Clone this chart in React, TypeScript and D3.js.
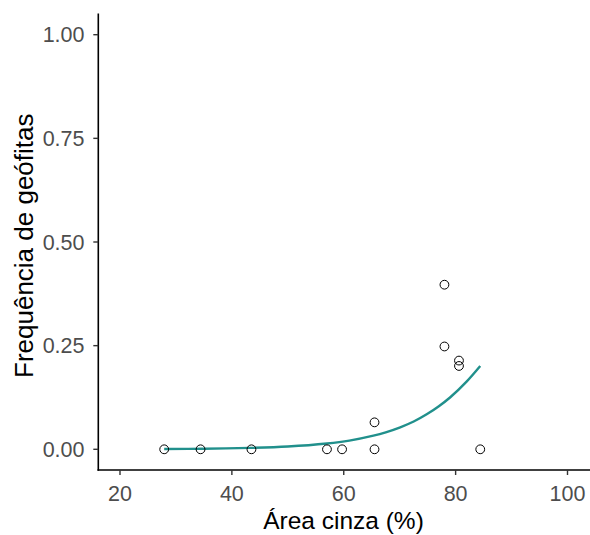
import React from "react";
import * as d3 from "d3";

const pointX = [27.9, 34.4, 43.5, 57.0, 59.7, 65.5, 65.5, 78.0, 78.0, 80.6, 80.6, 84.4];
const pointY = [0, 0, 0, 0, 0, 0, 0.065, 0.397, 0.248, 0.214, 0.201, 0];

const curveX = [27.9, 35, 43.3, 50, 57, 61, 65.3, 67.5, 70.1, 72.5, 74.9, 77, 79, 82, 84.4];
const curveY = [0.0007, 0.0014, 0.0034, 0.0067, 0.014, 0.021, 0.033, 0.041, 0.053, 0.067, 0.085, 0.104, 0.125, 0.164, 0.201];

const xTicks = [20, 40, 60, 80, 100];
const yTicks = [0, 0.25, 0.5, 0.75, 1.0];

const W = 590;
const H = 535;

export default function App() {
  const x = d3.scaleLinear().domain([20, 100]).range([120, 567.5]);
  const y = d3.scaleLinear().domain([0, 1]).range([449.3, 34.7]);
  const left = 98.3;
  const bottom = 470;
  const top = 13.5;
  const right = 590;

  const line = d3
    .line<number>()
    .x((_, i) => x(curveX[i]))
    .y((d) => y(d))
    .curve(d3.curveCatmullRom.alpha(0.5));

  const font = "Arial, 'Liberation Sans', sans-serif";

  return (
    <svg
      width={W}
      height={H}
      style={{ position: "absolute", left: 0, top: 0, background: "#fff" }}
      fontFamily={font}
    >
      <rect width={W} height={H} fill="#fff" />
      <path d={line(curveY) || ""} fill="none" stroke="#21908C" strokeWidth={2.4} strokeLinecap="butt" />
      {pointX.map((px, i) => (
        <circle
          key={i}
          cx={x(px)}
          cy={y(pointY[i])}
          r={4.4}
          fill="none"
          stroke="#000"
          strokeWidth={1}
        />
      ))}
      <line x1={left} x2={left} y1={top} y2={bottom + 0.8} stroke="#000" strokeWidth={1.6} />
      <line x1={left - 0.8} x2={right} y1={bottom} y2={bottom} stroke="#000" strokeWidth={1.6} />
      {yTicks.map((t) => (
        <g key={t}>
          <line x1={left - 5} x2={left} y1={y(t)} y2={y(t)} stroke="#333" strokeWidth={1.4} />
          <text
            x={84.5}
            y={y(t)}
            dy="0.36em"
            textAnchor="end"
            fontSize={21.5}
            fill="#4D4D4D"
          >
            {t.toFixed(2)}
          </text>
        </g>
      ))}
      {xTicks.map((t) => (
        <g key={t}>
          <line x1={x(t)} x2={x(t)} y1={bottom} y2={bottom + 5} stroke="#333" strokeWidth={1.4} />
          <text
            x={x(t)}
            y={500.5}
            textAnchor="middle"
            fontSize={21.5}
            fill="#4D4D4D"
          >
            {t}
          </text>
        </g>
      ))}
      <text x={343.5} y={529} textAnchor="middle" fontSize={24.5} fill="#000">
        Área cinza (%)
      </text>
      <text
        transform={`translate(33, ${(top + bottom) / 2 + 4}) rotate(-90)`}
        textAnchor="middle"
        fontSize={26}
        fill="#000"
      >
        Frequência de geófitas
      </text>
    </svg>
  );
}
